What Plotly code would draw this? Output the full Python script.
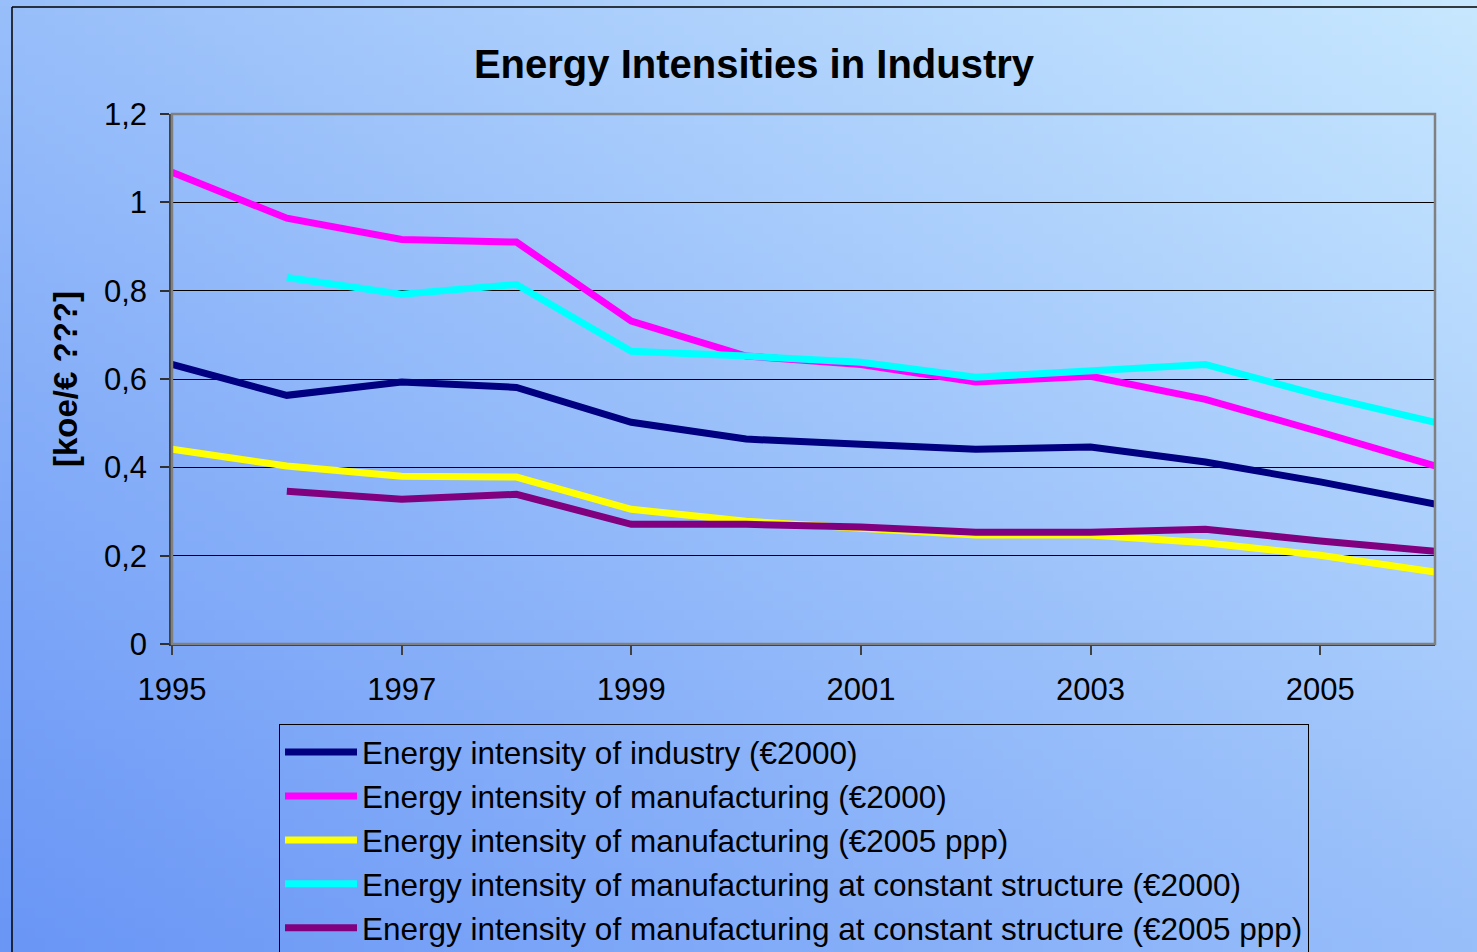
import base64, struct, zlib
import numpy as np
import plotly.graph_objects as go

years = list(range(1995, 2007))
industry_2000 = [0.633, 0.563, 0.593, 0.581, 0.502, 0.464, 0.452, 0.441, 0.446, 0.412, 0.367, 0.317]
manuf_2000 = [1.068, 0.964, 0.916, 0.910, 0.731, 0.652, 0.633, 0.593, 0.606, 0.554, 0.480, 0.403]
manuf_2005ppp = [0.441, 0.403, 0.380, 0.378, 0.305, 0.278, 0.262, 0.247, 0.247, 0.229, 0.201, 0.163]
manuf_const_2000 = [None, 0.830, 0.792, 0.814, 0.663, 0.652, 0.638, 0.604, 0.618, 0.633, 0.563, 0.502]
manuf_const_2005ppp = [None, 0.346, 0.328, 0.339, 0.271, 0.271, 0.265, 0.253, 0.253, 0.260, 0.233, 0.210]

series = [
    ("Energy intensity of industry (€2000)", industry_2000, "#000080"),
    ("Energy intensity of manufacturing (€2000)", manuf_2000, "#FF00FF"),
    ("Energy intensity of manufacturing (€2005 ppp)", manuf_2005ppp, "#FFFF00"),
    ("Energy intensity of manufacturing at constant structure (€2000)", manuf_const_2000, "#00FFFF"),
    ("Energy intensity of manufacturing at constant structure (€2005 ppp)", manuf_const_2005ppp, "#800080"),
]

x_tickvals = [1995, 1997, 1999, 2001, 2003, 2005]
x_ticktext = ["1995", "1997", "1999", "2001", "2003", "2005"]
y_tickvals = [0, 0.2, 0.4, 0.6, 0.8, 1.0, 1.2]
y_ticktext = ["0", "0,2", "0,4", "0,6", "0,8", "1", "1,2"]

W, H = 1477, 952
L, R, T, B = 172, 42, 114, 308
PW, PH = W - L - R, H - T - B

# gradient background image (small, stretched)
gw, gh = 148, 96
xs = np.linspace(0, 1, gw)[None, :]
ys = np.linspace(0, 1, gh)[:, None]
t = (xs + (1 - ys)) / 2.0
c0 = np.array([0x6a, 0x96, 0xf6], dtype=float)
c1 = np.array([0xc8, 0xe8, 0xff], dtype=float)
img = (c0[None, None, :] + (c1 - c0)[None, None, :] * t[:, :, None]).astype(np.uint8)
raw = b"".join(b"\x00" + img[r].tobytes() for r in range(gh))
def chunk(tag, data):
    return struct.pack(">I", len(data)) + tag + data + struct.pack(">I", zlib.crc32(tag + data) & 0xffffffff)
png = b"\x89PNG\r\n\x1a\n" + chunk(b"IHDR", struct.pack(">IIBBBBB", gw, gh, 8, 2, 0, 0, 0)) + \
      chunk(b"IDAT", zlib.compress(raw, 9)) + chunk(b"IEND", b"")
src = "data:image/png;base64," + base64.b64encode(png).decode()

fig = go.Figure()
for name, vals, col in series:
    fig.add_trace(go.Scatter(x=years, y=vals, name=name, mode="lines",
                             line=dict(color=col, width=7), connectgaps=False))

def px(xp):
    return (xp - L) / PW
def py(yp):
    return (H - B - yp) / PH

fig.update_layout(
    width=W, height=H,
    margin=dict(l=L, r=R, t=T, b=B, autoexpand=False),
    paper_bgcolor="#9cc0fa",
    plot_bgcolor="rgba(0,0,0,0)",
    font=dict(family="Liberation Sans, Arial, sans-serif", color="black"),
    title=dict(text="<b>Energy Intensities in Industry</b>", x=(754 - L) / PW, xref="paper",
               xanchor="center", y=1 - 64 / H, yanchor="middle", font=dict(size=40, color="black")),
    images=[dict(source=src, xref="paper", yref="paper", x=px(0), y=py(0),
                 sizex=W / PW, sizey=H / PH, sizing="stretch", layer="below",
                 xanchor="left", yanchor="top")],
    showlegend=True,
    legend=dict(x=px(279), y=py(724), xanchor="left", yanchor="top",
                bgcolor="rgba(0,0,0,0)", bordercolor="black", borderwidth=1,
                font=dict(size=31.5, color="black"), itemwidth=72, traceorder="normal"),
    shapes=[
        dict(type="rect", xref="paper", yref="paper", x0=0, x1=1, y0=0, y1=1,
             line=dict(color="#808080", width=2.5), layer="above"),
        dict(type="line", xref="paper", yref="paper", x0=px(12), x1=px(12), y0=py(7), y1=py(960),
             line=dict(color="black", width=1.5)),
        dict(type="line", xref="paper", yref="paper", x0=px(12), x1=px(1490), y0=py(7), y1=py(7),
             line=dict(color="black", width=1.5)),
    ],
)
fig.update_xaxes(range=[1995, 2006], tickmode="array", tickvals=x_tickvals, ticktext=x_ticktext,
                 showgrid=False, zeroline=False, showline=True, linecolor="#303030", linewidth=2,
                 ticks="outside", ticklen=9, tickcolor="#404040", tickwidth=1.5,
                 ticklabelstandoff=8,
                 tickfont=dict(size=31, color="black"))
fig.update_yaxes(range=[0, 1.2], tickmode="array", tickvals=y_tickvals, ticktext=y_ticktext,
                 showgrid=True, gridcolor="black", gridwidth=1, zeroline=False,
                 showline=True, linecolor="#404040", linewidth=2.5,
                 ticks="outside", ticklen=9, tickcolor="#303030", tickwidth=1.5,
                 ticklabelstandoff=7,
                 tickfont=dict(size=31, color="black"),
                 title=dict(text="<b>[koe/€ ???]</b>", font=dict(size=33, color="black"), standoff=17))

fig.write_html("out.html", config={"displayModeBar": False},
               post_script="document.body.style.margin='0px';")
